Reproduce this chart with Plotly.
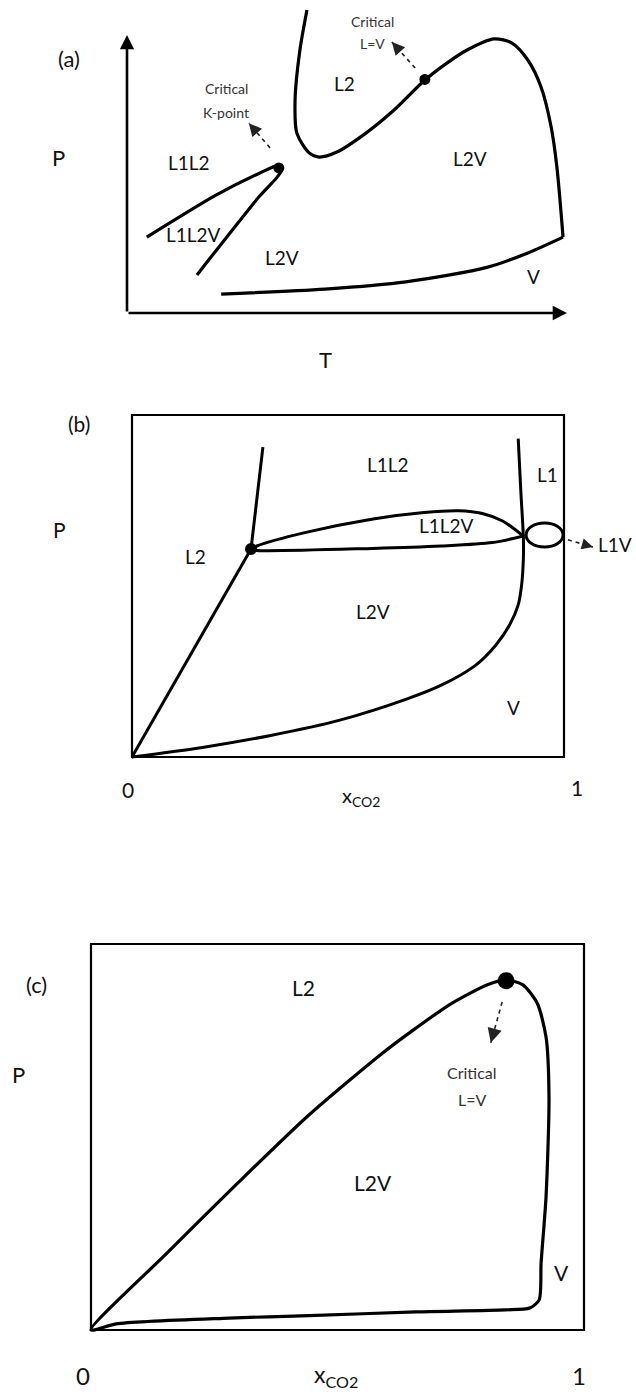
import plotly.graph_objects as go

W, H = 636, 1397
FONT = "Lato"
INK = "#111111"

# ---------------- (a) P-T projection (T, P in reduced units) ----------------
a_crit_T = [0.409, 0.393, 0.382, 0.386, 0.414, 0.436, 0.477, 0.543, 0.607, 0.677,
            0.727, 0.773, 0.834, 0.875, 0.911, 0.941, 0.964, 0.977, 0.991]
a_crit_P = [1.090, 0.946, 0.766, 0.647, 0.576, 0.561, 0.579, 0.647, 0.730, 0.838,
            0.899, 0.946, 0.986, 0.971, 0.910, 0.813, 0.669, 0.525, 0.273]
a_vap_T = [0.991, 0.911, 0.820, 0.634, 0.450, 0.214]
a_vap_P = [0.273, 0.216, 0.165, 0.112, 0.086, 0.068]
a_llv_T = [0.045, 0.200, 0.300, 0.344, 0.352, 0.340, 0.300, 0.159]
a_llv_P = [0.273, 0.422, 0.502, 0.531, 0.516, 0.486, 0.418, 0.137]
a_dot_T = [0.345, 0.677]
a_dot_P = [0.522, 0.840]
a_lab = ["L2", "L2V", "L1L2", "L1L2V", "L2V", "V"]
a_lab_T = [0.495, 0.780, 0.141, 0.150, 0.352, 0.923]
a_lab_P = [0.827, 0.554, 0.543, 0.281, 0.201, 0.133]

# ---------------- (b) P-x section with K-point ----------------
b_l2_x = [0.303, 0.2755]
b_l2_P = [0.906, 0.608]
b_bub_x = [0.0, 0.2755]
b_bub_P = [0.0, 0.608]
b_dew_x = [0.894, 0.900, 0.906, 0.906, 0.902, 0.894, 0.874, 0.842, 0.795, 0.716,
           0.637, 0.479, 0.321, 0.163, 0.0]
b_dew_P = [0.931, 0.779, 0.641, 0.582, 0.504, 0.445, 0.386, 0.327, 0.268, 0.210,
           0.170, 0.107, 0.063, 0.028, 0.0]
b_llv_up_x = [0.2755, 0.289, 0.400, 0.558, 0.676, 0.756, 0.811, 0.858, 0.906]
b_llv_up_P = [0.608, 0.617, 0.656, 0.696, 0.715, 0.720, 0.712, 0.690, 0.646]
b_llv_lo_x = [0.2755, 0.289, 0.558, 0.716, 0.834, 0.906]
b_llv_lo_P = [0.608, 0.604, 0.610, 0.617, 0.627, 0.646]
b_dot_x, b_dot_P = [0.2755], [0.608]
b_loop_x, b_loop_P = 0.955, 0.649          # L1V loop centre
b_loop_w, b_loop_h = 0.0428, 0.0351        # half-width / half-height
b_lab = ["L1L2", "L1", "L1L2V", "L2", "L2V", "V"]
b_lab_x = [0.593, 0.961, 0.729, 0.148, 0.558, 0.882]
b_lab_P = [0.855, 0.827, 0.678, 0.585, 0.424, 0.146]

# ---------------- (c) P-x section with critical point ----------------
c_env_x = [0.0, 0.154, 0.298, 0.442, 0.586, 0.659, 0.730, 0.803, 0.842, 0.876,
           0.905, 0.923, 0.929, 0.923, 0.913, 0.909, 0.890, 0.840, 0.659, 0.442,
           0.280, 0.051, 0.0]
c_env_P = [0.0, 0.199, 0.381, 0.557, 0.712, 0.782, 0.845, 0.894, 0.907, 0.894,
           0.847, 0.759, 0.604, 0.345, 0.174, 0.078, 0.057, 0.052, 0.047, 0.037,
           0.031, 0.016, 0.0]
c_dot_x, c_dot_P = [0.842], [0.905]
c_lab = ["L2", "L2V", "V"]
c_lab_x = [0.432, 0.572, 0.955]
c_lab_P = [0.886, 0.381, 0.148]

# pixel frames of the three panels: (left, right, top, bottom, padding)
FRAMES = {
    "a": (127, 567, 35, 313, 30),
    "b": (132, 564, 415, 757, 45),
    "c": (91, 584, 944, 1330, 40),
}
SUFFIX = {"a": "", "b": "2", "c": "3"}


def axes_for(key):
    l, r, t, b, pad = FRAMES[key]
    sx, sy = 1.0 / (r - l), 1.0 / (b - t)
    xa = dict(domain=[(l - pad) / W, (r + pad) / W], range=[-pad * sx, 1 + pad * sx],
              visible=False, fixedrange=True)
    ya = dict(domain=[1 - (b + pad) / H, 1 - (t - pad) / H], range=[-pad * sy, 1 + pad * sy],
              visible=False, fixedrange=True)
    return xa, ya


def to_paper(key, x, y):
    # panel units -> paper fraction, for text lying outside a panel's plot area
    l, r, t, b, _ = FRAMES[key]
    px = l + x * (r - l)
    py = b - y * (b - t)
    return px / W, 1 - py / H


fig = go.Figure()
annotations, shapes = [], []


def curve(x, y, key, w=3.2, smooth=0.8):
    ax = SUFFIX[key]
    fig.add_trace(go.Scatter(x=x, y=y, mode="lines", xaxis="x" + ax, yaxis="y" + ax,
                             line=dict(color="black", width=w, shape="spline", smoothing=smooth),
                             hoverinfo="skip", showlegend=False))


def dots(x, y, key, size):
    ax = SUFFIX[key]
    fig.add_trace(go.Scatter(x=x, y=y, mode="markers", xaxis="x" + ax, yaxis="y" + ax,
                             marker=dict(color="black", size=size), cliponaxis=False,
                             hoverinfo="skip", showlegend=False))


def label(text, x, y, key, size, color=INK):
    ax = SUFFIX[key]
    annotations.append(dict(text=text, x=x, y=y, xref="x" + ax, yref="y" + ax,
                            xanchor="center", yanchor="middle",
                            showarrow=False, font=dict(family=FONT, size=size, color=color)))


def outer_label(text, x, y, key, size, color=INK):
    px, py = to_paper(key, x, y)
    annotations.append(dict(text=text, x=px, y=py, xref="paper", yref="paper",
                            xanchor="center", yanchor="middle",
                            showarrow=False, font=dict(family=FONT, size=size, color=color)))


def dashed_arrow(x0, y0, x1, y1, key, head=1.6):
    ax = SUFFIX[key]
    fig.add_trace(go.Scatter(x=[x0, x1], y=[y0, y1], mode="lines", xaxis="x" + ax, yaxis="y" + ax,
                             line=dict(color="#222222", width=1.6, dash="4px,4px"),
                             hoverinfo="skip", showlegend=False))
    annotations.append(dict(x=x1, y=y1, ax=x1 - (x1 - x0) * 0.2, ay=y1 - (y1 - y0) * 0.2,
                            xref="x" + ax, yref="y" + ax, axref="x" + ax, ayref="y" + ax,
                            text="", showarrow=True, arrowhead=2, arrowsize=head,
                            arrowwidth=1.6, arrowcolor="#222222"))


# ---- panel (a) ----
curve(a_crit_T, a_crit_P, "a")
curve(a_vap_T, a_vap_P, "a")
curve(a_llv_T, a_llv_P, "a", smooth=0.6)
dots(a_dot_T, a_dot_P, "a", 11)
for t, x, y in zip(a_lab, a_lab_T, a_lab_P):
    label(t, x, y, "a", 19)
dashed_arrow(0.325, 0.594, 0.277, 0.683, "a")
dashed_arrow(0.655, 0.881, 0.602, 0.975, "a")
label("Critical", 0.225, 0.809, "a", 14, "#333333")
label("K-point", 0.225, 0.723, "a", 14, "#333333")
label("Critical", 0.557, 1.050, "a", 14, "#333333")
label("L=V", 0.557, 0.968, "a", 14, "#333333")
# axis arrows
for (x1, y1) in [(1.0, 0.0), (0.0, 1.0)]:
    annotations.append(dict(x=x1, y=y1, ax=0, ay=0, xref="x", yref="y", axref="x", ayref="y",
                            text="", showarrow=True, arrowhead=2, arrowsize=1.1,
                            arrowwidth=2.6, arrowcolor="black"))
outer_label("(a)", -0.132, 0.917, "a", 22)
outer_label("P", -0.155, 0.561, "a", 22)
outer_label("T", 0.452, -0.169, "a", 22)

# ---- panel (b) ----
curve(b_l2_x, b_l2_P, "b", 3)
curve(b_bub_x, b_bub_P, "b", 3)
curve(b_dew_x, b_dew_P, "b", 3)
curve(b_llv_up_x, b_llv_up_P, "b", 3)
curve(b_llv_lo_x, b_llv_lo_P, "b", 3)
dots(b_dot_x, b_dot_P, "b", 12)
shapes.append(dict(type="rect", xref="x2", yref="y2", x0=0, x1=1, y0=0, y1=1,
                   line=dict(color="black", width=2.2)))
shapes.append(dict(type="circle", xref="x2", yref="y2",
                   x0=b_loop_x - b_loop_w, x1=b_loop_x + b_loop_w,
                   y0=b_loop_P - b_loop_h, y1=b_loop_P + b_loop_h,
                   line=dict(color="black", width=3)))
for t, x, y in zip(b_lab, b_lab_x, b_lab_P):
    label(t, x, y, "b", 19)
dashed_arrow(1.009, 0.635, 1.067, 0.614, "b", 1.4)
outer_label("L1V", 1.118, 0.620, "b", 19)
outer_label("(b)", -0.123, 0.974, "b", 21)
outer_label("P", -0.167, 0.664, "b", 21)
outer_label("0", -0.009, -0.096, "b", 21)
outer_label("1", 1.030, -0.088, "b", 21)
outer_label("x<sub>CO2</sub>", 0.530, -0.115, "b", 20)

# ---- panel (c) ----
curve(c_env_x, c_env_P, "c", 3.2, 0.7)
dots(c_dot_x, c_dot_P, "c", 17)
shapes.append(dict(type="rect", xref="x3", yref="y3", x0=0, x1=1, y0=0, y1=1,
                   line=dict(color="black", width=2.2)))
for t, x, y in zip(c_lab, c_lab_x, c_lab_P):
    label(t, x, y, "c", 21)
dashed_arrow(0.834, 0.850, 0.811, 0.744, "c", 1.8)
label("Critical", 0.773, 0.666, "c", 16, "#333333")
label("L=V", 0.773, 0.596, "c", 16, "#333333")
outer_label("(c)", -0.110, 0.894, "c", 22)
outer_label("P", -0.148, 0.661, "c", 22)
outer_label("0", -0.016, -0.117, "c", 24)
outer_label("1", 0.990, -0.117, "c", 24)
outer_label("x<sub>CO2</sub>", 0.497, -0.117, "c", 23)

layout_axes = {}
for key, suffix in SUFFIX.items():
    xa, ya = axes_for(key)
    xa["anchor"] = "y" + suffix
    ya["anchor"] = "x" + suffix
    layout_axes["xaxis" + suffix] = xa
    layout_axes["yaxis" + suffix] = ya

fig.update_layout(width=W, height=H, margin=dict(l=0, r=0, t=0, b=0),
                  paper_bgcolor="white", plot_bgcolor="white", showlegend=False,
                  annotations=annotations, shapes=shapes, **layout_axes)

fig.write_html("out.html", config={"displayModeBar": False})
